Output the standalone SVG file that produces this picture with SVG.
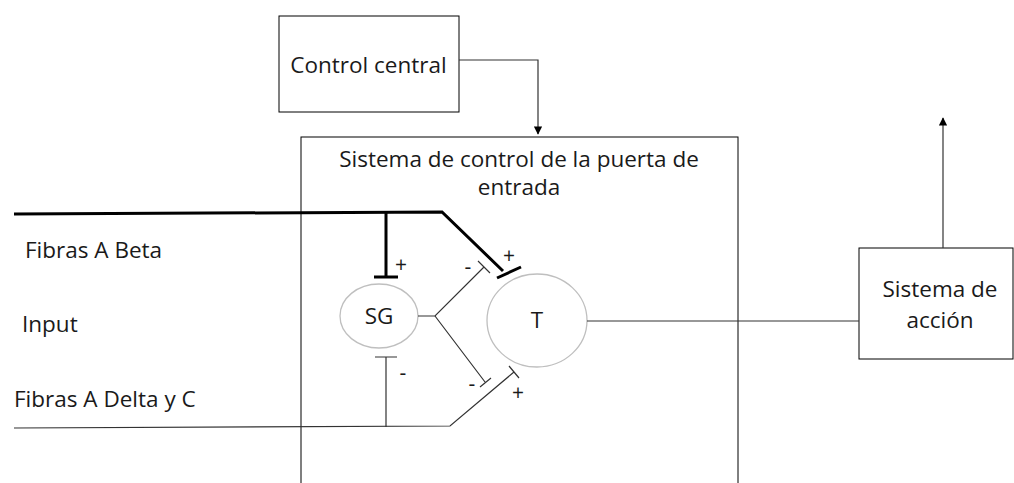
<svg xmlns="http://www.w3.org/2000/svg" width="1014" height="483" viewBox="0 0 1014 483">
<defs>
<style>
.box{fill:#fff;stroke:#000;stroke-width:1}
.t{font-family:"Open Sans","Noto Sans",sans-serif;font-size:22.5px;fill:#1a1a1a}
.c{text-anchor:middle}
.s{font-family:"Open Sans","Noto Sans",sans-serif;font-size:21px;fill:#1a1a1a;text-anchor:middle}
.thin{stroke:#333;stroke-width:1.2;fill:none}
.thick{stroke:#000;stroke-width:3;fill:none}
.cell{fill:#fff;stroke:#bfbfbf;stroke-width:1.3}
</style>
<marker id="arr" viewBox="0 0 10 10" refX="9" refY="5" markerWidth="7" markerHeight="7" orient="auto">
<path d="M0,0 L10,5 L0,10 z" fill="#000"/>
</marker>
</defs>
<rect width="1014" height="483" fill="#fff"/>
<g id="gate-system">
<rect class="box" x="301" y="137" width="437" height="360"/>
<text class="t c" x="519" y="167">Sistema de control de la puerta de</text>
<text class="t c" x="519" y="195">entrada</text>
</g>
<g id="control-central">
<rect class="box" x="279" y="16" width="180" height="96"/>
<text class="t c" x="368.5" y="73">Control central</text>
</g>
<g id="sistema-accion">
<rect class="box" x="859" y="248" width="154" height="111"/>
<text class="t c" x="940" y="297">Sistema de</text>
<text class="t c" x="940" y="328">acción</text>
</g>
<g id="sg">
<ellipse class="cell" cx="379" cy="316" rx="39" ry="32"/>
<text class="t c" x="379" y="324">SG</text>
</g>
<g id="t">
<ellipse class="cell" cx="537" cy="320.5" rx="50" ry="46.5"/>
<text class="t c" x="537" y="328">T</text>
</g>
<g id="labels">
<text class="t" x="25" y="258">Fibras A Beta</text>
<text class="t" x="22" y="332">Input</text>
<text class="t" x="14" y="407">Fibras A Delta y C</text>
</g>
<g id="connectors">
<path class="thin" d="M459,60 H538 V134" marker-end="url(#arr)"/>
<path class="thin" d="M943,248 V118" marker-end="url(#arr)"/>
<path class="thin" d="M587,321 H859"/>
<path class="thick" d="M14,214 L442,212 L503,271"/>
<path class="thick" d="M497,278 L521,267"/>
<path class="thick" d="M386,213 V277 M374,277 H398"/>
<path class="thin" d="M418,316 H435 L484,267 M478,261 L490,273"/>
<path class="thin" d="M435,316 L485,382 M480,387 L491,378"/>
<path class="thin" d="M386,427 V357 M375,357 H397"/>
<path class="thin" d="M14,428 L450,426 L514,372 M509,366 L519,378"/>
<text class="s" x="401" y="272">+</text>
<text class="s" x="509" y="263">+</text>
<text class="s" x="518" y="400">+</text>
<text class="s" x="468" y="274">-</text>
<text class="s" x="472" y="391">-</text>
<text class="s" x="403" y="380">-</text>
</g>
</svg>
